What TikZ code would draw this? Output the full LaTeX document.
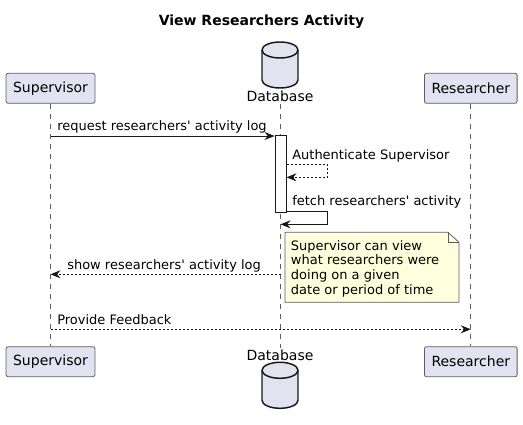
\documentclass[tikz,border=0pt]{standalone}
\usepackage{fontspec}
\setmainfont{DejaVu Sans}
\usepackage{tikz}
\usetikzlibrary{arrows.meta,positioning}
\definecolor{partfill}{HTML}{E2E2F0}
\definecolor{partline}{HTML}{181818}
\definecolor{notefill}{HTML}{FEFFDD}
\newcommand{\q}{\textquotesingle}

\begin{document}
\begin{tikzpicture}[x=0.75pt,y=-0.75pt,
    actor/.style={draw=partline!70,fill=partfill,rounded corners=1.5pt,line width=0.6pt,
        inner xsep=5.25pt,minimum height=22.5pt,font=\fontsize{10.5}{12}\selectfont},
    dbline/.style={draw=partline,fill=partfill,line width=1.1pt},
    dbpic/.pic={
        \path[dbline] (-18,-15) -- (-18,15) arc[start angle=180,end angle=0,x radius=18,y radius=8]
            -- (18,-15) arc[start angle=0,end angle=-180,x radius=18,y radius=8] -- cycle;
        \draw[dbline,fill=none] (-18,-15) arc[start angle=180,end angle=0,x radius=18,y radius=8];
    },
    dblabel/.style={inner sep=1pt,font=\fontsize{10.5}{12}\selectfont},
    lifeline/.style={draw=partline!70,line width=0.5pt,dash pattern=on 3.75pt off 3.75pt},
    actbox/.style={draw=partline,fill=white,line width=0.75pt,minimum width=8.25pt,minimum height=57.75pt,inner sep=0pt},
    msg/.style={draw=partline,line width=0.75pt,-{Stealth[length=7.5pt,width=6pt,inset=2.5pt]}},
    dmsg/.style={msg,dash pattern=on 1.5pt off 1.5pt},
    lbl/.style={anchor=base west,inner sep=0pt,font=\fontsize{9.75}{11}\selectfont}
  ]
  \useasboundingbox (0,0) rectangle (523,424);

  \node[font=\bfseries\fontsize{10.5}{12}\selectfont] (title) at (261.5,22) {View Researchers Activity};

  % participants, top and bottom
  \node[actor] (sup1) at (50.5,88.3) {Supervisor};
  \node[actor] (res1) at (470.8,88.3) {Researcher};
  \pic at (280,65) {dbpic};
  \node[dblabel] (dbl1) at (280,96.5) {Database};

  \node[actor] (sup2) at (50.5,361.7) {Supervisor};
  \node[actor] (res2) at (470.8,361.7) {Researcher};
  \node[dblabel] (dbl2) at (280,355) {Database};
  \pic at (280,385.3) {dbpic};

  % lifelines
  \draw[lifeline] (sup1.south) -- (sup2.north);
  \draw[lifeline] (dbl1.south) -- (dbl2.north);
  \draw[lifeline] (res1.south) -- (res2.north);

  \node[actbox] (act) at (280.5,173.5) {};

  % messages
  \draw[msg] (sup1 |- 0,136) -- (act.west |- 0,136);
  \node[lbl] (m1) at (57,130.5) {request researchers\q{} activity log};

  \draw[dmsg] (act.east |- 0,164.3) -| (327.3,177.3) -- (act.east |- 0,177.3);
  \node[lbl] (m2) at (292,159) {Authenticate Supervisor};

  \draw[msg] (act.east |- 0,211) -| (327.3,224.3) -- (act |- 0,224.3);
  \node[lbl] (m3) at (292,205.5) {fetch researchers\q{} activity};

  \draw[dmsg] (act |- 0,274.3) -- (sup1 |- 0,274.3);
  \node[lbl] (m4) at (67,269) {show researchers\q{} activity log};

  \draw[dmsg] (sup1 |- 0,329.3) -- (res1 |- 0,329.3);
  \node[lbl] (m5) at (57,324.5) {Provide Feedback};

  % note
  \draw[draw=partline!70,fill=notefill,line width=0.6pt]
    (285,232.3) -- (448,232.3) -- (459,242.3) -- (459,302.3) -- (285,302.3) -- cycle;
  \draw[draw=partline!70,line width=0.6pt] (448,232.3) -- (448,242.3) -- (459,242.3);
  \node[anchor=west,align=left,inner sep=0pt,font=\fontsize{9.75}{11.1}\selectfont] (note) at (290.7,268.8)
    {Supervisor can view\\what researchers were\\doing on a given\\date or period of time};
\end{tikzpicture}
\end{document}
